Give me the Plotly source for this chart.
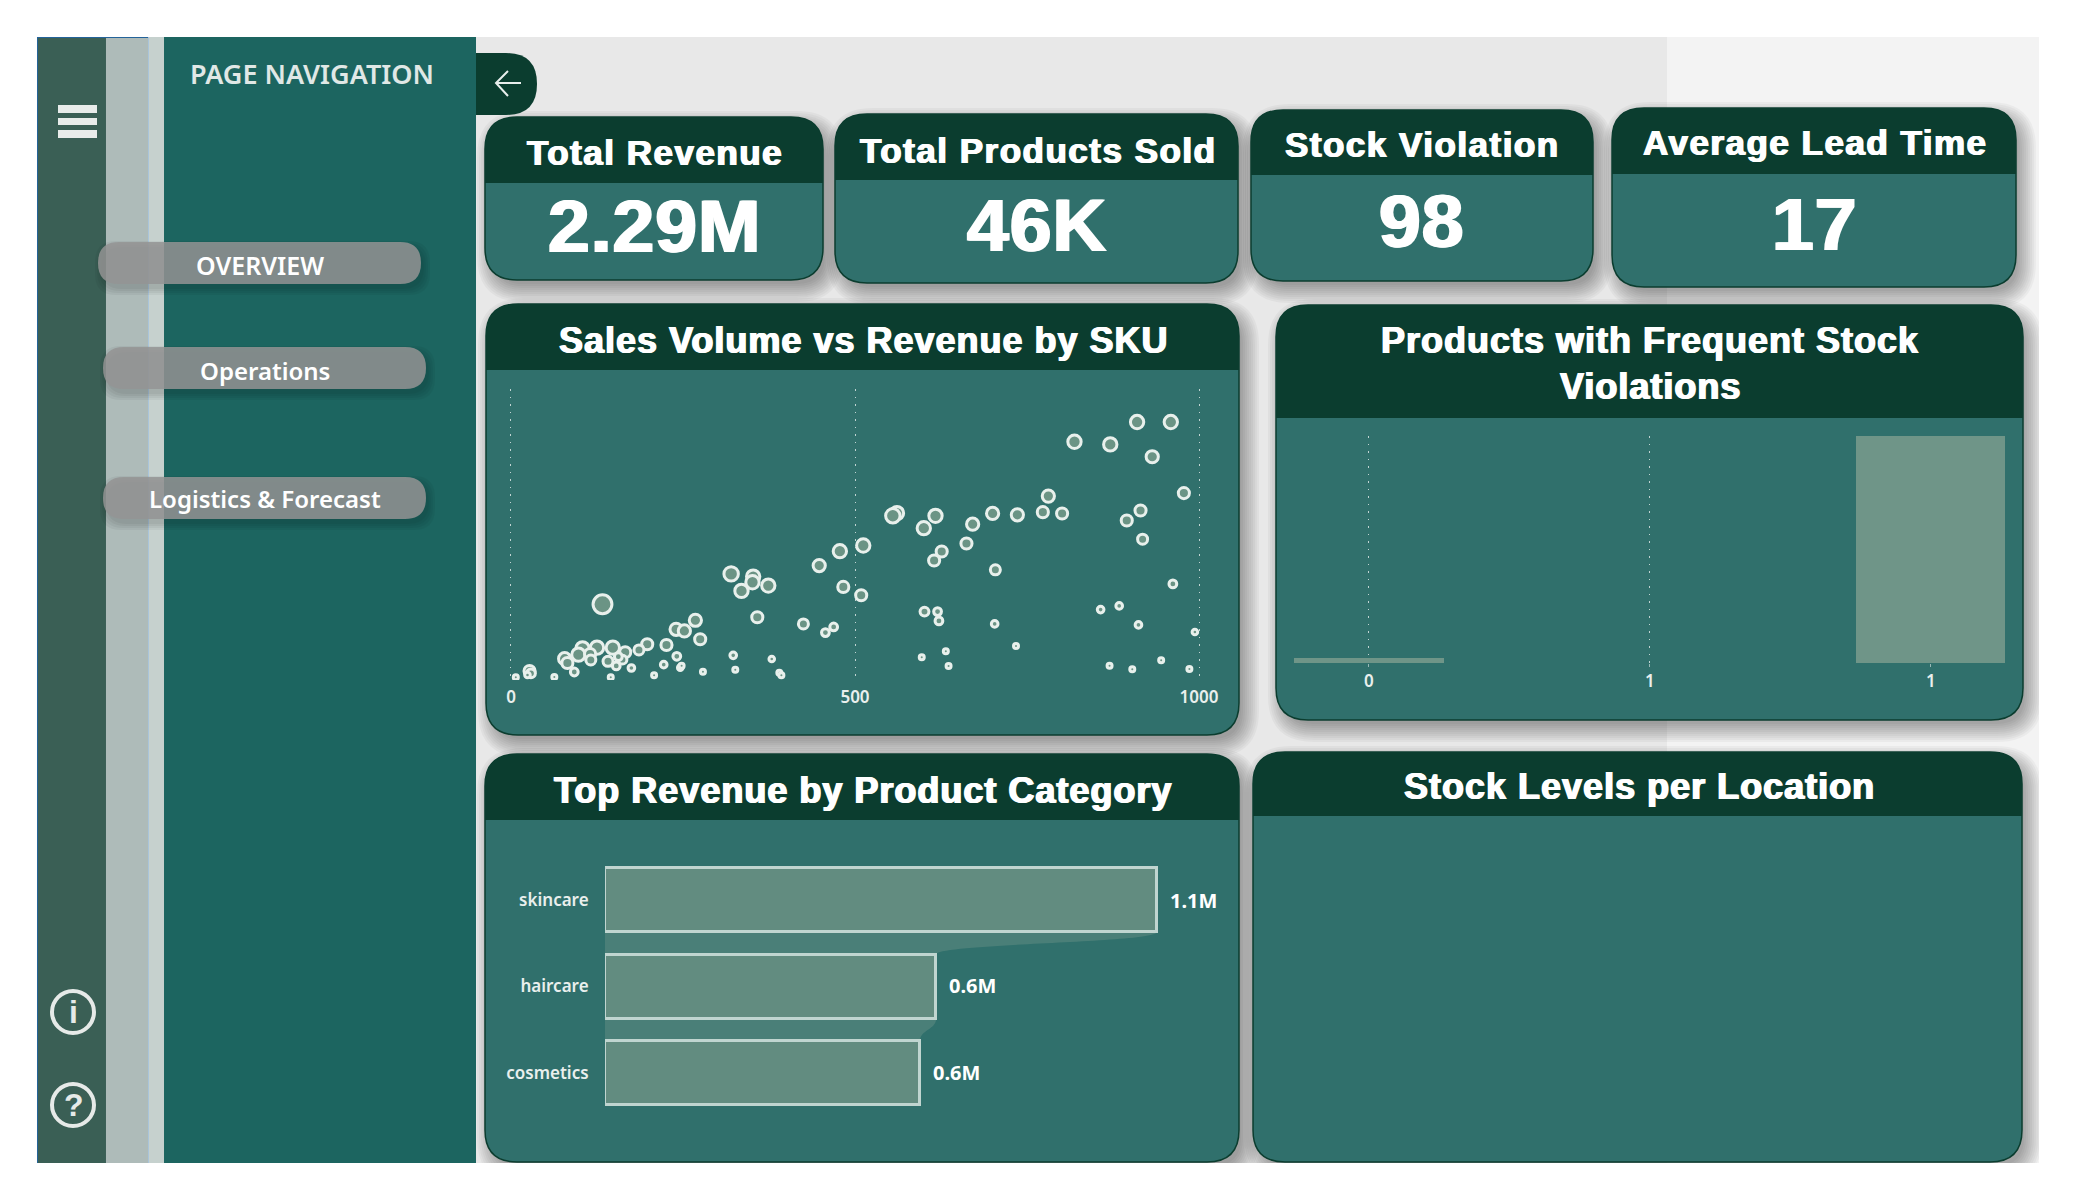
"""
Supply chain dashboard page rebuilt as one Plotly figure.
Panels are drawn as paper shapes, the three visuals are real traces.
"""

import plotly.graph_objects as go

W = 2075
H = 1200

# KPI cards
kpi_titles = ["Total Revenue", "Total Products Sold", "Stock Violation", "Average Lead Time"]
kpi_values = ["2.29M", "46K", "98", "17"]

# Sales Volume vs Revenue by SKU
sales_volume = [910, 959, 819, 871, 932, 978, 781, 561, 555, 617, 600, 700, 736, 773, 801, 915, 895, 671, 918,
                512, 478, 662, 626, 615, 448, 704, 320, 352, 351, 374, 335, 483, 509, 962, 133, 601, 620, 622,
                857, 884, 358, 425, 703, 912, 469, 457, 268, 240, 252, 275, 994, 226, 198, 186, 166, 148, 125,
                104, 98, 78, 115, 116, 82, 141, 162, 156, 153, 92, 175, 222, 241, 246, 248, 323, 632, 597,
                734, 379, 945, 636, 870, 903, 986, 279, 326, 208, 145, 390, 393, 63, 7, 27, 29, 24]
revenue = [85030, 85030, 78540, 77660, 73590, 61600, 60610, 55000, 54120, 54120, 50050, 54890, 54450, 55330,
           54890, 55880, 52580, 51370, 46420, 44330, 42460, 44990, 42350, 39380, 37730, 36300, 34980, 34100,
           32230, 31130, 29370, 30690, 27940, 31680, 24970, 22550, 22550, 19470, 23210, 24420, 20680, 18480,
           18480, 18150, 17490, 15620, 19690, 16720, 16170, 13420, 15840, 11550, 11770, 9900, 9130, 10670,
           10670, 10450, 8360, 7040, 8580, 6600, 5610, 6160, 6710, 7700, 4620, 2640, 3960, 5060, 7810, 4070,
           4730, 8140, 9460, 7480, 11220, 6930, 6490, 4620, 4730, 3520, 3630, 2750, 3410, 1540, 880, 2420,
           1540, 990, 880, 2970, 2200, 1650]
bubble_measure = [60, 60, 60, 60, 55, 50, 55, 60, 65, 60, 60, 55, 55, 50, 50, 50, 50, 55, 45,
                  60, 60, 50, 50, 50, 55, 45, 65, 60, 60, 60, 60, 50, 50, 35, 85, 40, 35, 35,
                  30, 30, 50, 45, 30, 30, 35, 35, 55, 55, 55, 50, 25, 50, 50, 45, 50, 60, 60,
                  60, 60, 55, 50, 45, 50, 45, 40, 35, 35, 35, 30, 30, 35, 25, 20, 30, 20, 20,
                  20, 25, 15, 15, 15, 10, 10, 15, 15, 10, 5, 10, 5, 20, 20, 50, 40, 25]
sales_ticks = [0, 500, 1000]

# Products with Frequent Stock Violations
violation_flag = [0, 1]
violation_count = [2, 98]
violation_tickvals = [0, 0.5, 1]
violation_ticktext = ["0", "1", "1"]

# Top Revenue by Product Category
categories = ["skincare", "haircare", "cosmetics"]
category_revenue = [1055000, 633000, 602000]

DARK = "#0b3d2f"
BODY = "#30706c"
SIDEBAR = "#1c6560"
TITLE_FONT = "Liberation Sans"
UI_FONT = "Noto Sans"
LABEL = "#e9efed"
RADIUS = 32


def px(x):
    return x / W


def py(y):
    return 1 - y / H


def rounded(x0, y0, x1, y1, tl=0, tr=0, br=0, bl=0):
    """SVG path of a box given in page pixels, returned in paper units."""
    def p(x, y):
        return f"{px(x):.5f},{py(y):.5f}"
    return (
        f"M {p(x0 + tl, y0)} L {p(x1 - tr, y0)} Q {p(x1, y0)} {p(x1, y0 + tr)} "
        f"L {p(x1, y1 - br)} Q {p(x1, y1)} {p(x1 - br, y1)} "
        f"L {p(x0 + bl, y1)} Q {p(x0, y1)} {p(x0, y1 - bl)} "
        f"L {p(x0, y0 + tl)} Q {p(x0, y0)} {p(x0 + tl, y0)} Z"
    )


shapes = []


def add_path(path, fill, line=None, width=0):
    shapes.append(dict(type="path", xref="paper", yref="paper", path=path, fillcolor=fill,
                       line=dict(color=line or "rgba(0,0,0,0)", width=width), layer="below"))


def add_box(x0, y0, x1, y1, fill, line=None, width=0):
    add_path(rounded(x0, y0, x1, y1), fill, line, width)


def add_shadow(x0, y0, x1, y1, r, dx=6, dy=8, spread=14, alpha=0.035):
    for e in range(-4, spread + 1, 2):
        add_path(rounded(x0 + dx - e, y0 + dy - e, x1 + dx + e, y1 + dy + e,
                         r + e, r + e, r + e, r + e), f"rgba(0,0,0,{alpha})")


def add_text(x, y, text, size, color="white", family=TITLE_FONT, weight=700, spacing=0, stroke=0):
    font = dict(family=family, size=size, color=color, weight=weight)
    if stroke:
        font["shadow"] = f"{stroke}px 0 0 {color}, -{stroke}px 0 0 {color}"
    if spacing:
        text = f'<span style="letter-spacing:{spacing}px">{text}</span>'
    fig.add_annotation(x=px(x), y=py(y), xref="paper", yref="paper", text=text, showarrow=False,
                       xanchor="center", yanchor="middle", font=font)


fig = go.Figure()

# Page background
add_box(476, 37, 1667, 1163, "#e8e8e8")
add_box(1667, 37, 2039, 1163, "#f3f3f3")

# card boxes: x0, y0, x1, header bottom, y1
kpi_boxes = [(485, 117, 823, 183, 280), (835, 114, 1238, 180, 283),
             (1251, 110, 1593, 175, 281), (1612, 108, 2016, 174, 287)]
panel_boxes = [(486, 304, 1239, 370, 735), (1276, 305, 2023, 418, 720),
               (485, 754, 1239, 820, 1162), (1253, 752, 2022, 816, 1162)]

for x0, y0, x1, hb, y1 in kpi_boxes + panel_boxes:
    add_shadow(x0, y0, x1, y1, RADIUS)

# shadows stop at the page edge
add_box(0, 1163, W, H, "white")
add_box(2039, 0, W, H, "white")

for x0, y0, x1, hb, y1 in kpi_boxes + panel_boxes:
    add_path(rounded(x0, y0, x1, y1, RADIUS, RADIUS, RADIUS, RADIUS), BODY, DARK, 1.5)
    add_path(rounded(x0, y0, x1, hb, RADIUS, RADIUS, 0, 0), DARK)

# Sidebar
add_box(37, 37, 106, 1163, "#3a5f55")
add_box(106, 37, 148, 1163, "#aebbb9")
add_box(148, 37, 164, 1163, "#c6d1ce")
add_box(164, 37, 476, 1163, SIDEBAR)
add_box(37, 37, 38, 1163, "#24639a")
add_box(37, 37, 148, 38, "#24639a")
add_box(148, 37, 149, 1163, "#a9c4da")

# Nav pills
for x0, y0, x1, y1 in [(98, 242, 421, 284), (103, 347, 426, 389), (103, 477, 426, 519)]:
    for e in range(0, 7, 2):
        add_path(rounded(x0 + 3 - e, y0 + 5 - e, x1 + 3 + e, y1 + 5 + e, 21, 21, 21, 21), "rgba(0,0,0,0.045)")
    add_path(rounded(x0, y0, x1, y1, 21, 21, 21, 21), "rgba(148,148,148,0.85)")

# Hamburger icon
for y0, y1 in [(105, 113), (118, 125), (130, 138)]:
    add_box(58, y0, 97, y1, "#e8ecea")

# Back button and arrow
add_path(rounded(476, 53, 537, 115, 0, 31, 31, 0), DARK)
shapes.append(dict(type="path", xref="paper", yref="paper", layer="above",
                   path=f"M {px(521)},{py(83)} L {px(496)},{py(83)} M {px(508)},{py(71)} L {px(496)},{py(83)} L {px(508)},{py(96)}",
                   line=dict(color="#e8eeec", width=2)))

# Info and help circles
for cy in [1012, 1105]:
    shapes.append(dict(type="circle", xref="paper", yref="paper", layer="above",
                       x0=px(52), x1=px(94), y0=py(cy + 21), y1=py(cy - 21),
                       line=dict(color="#e6eae8", width=4)))

# Scatter: sales volume vs revenue
fig.add_trace(go.Scatter(
    x=sales_volume, y=revenue, mode="markers", xaxis="x", yaxis="y", showlegend=False,
    marker=dict(size=bubble_measure, sizemode="diameter", sizeref=4.5, sizemin=2.5, color="#6b9485", opacity=1,
                line=dict(color="#e8f0ec", width=3)),
))

# Column chart: violations
fig.add_trace(go.Bar(
    x=violation_flag, y=violation_count, width=0.267, xaxis="x2", yaxis="y2", showlegend=False,
    marker=dict(color="#6f9588", line=dict(width=0)),
))

# Bar chart: revenue per category
category_pos = list(range(len(categories)))
fig.add_trace(go.Bar(
    x=category_revenue, y=category_pos, orientation="h", width=0.74, xaxis="x3", yaxis="y3", showlegend=False,
    marker=dict(color="#628c80", line=dict(color="#c0d5d0", width=3)),
))

value_font = dict(family=UI_FONT, size=20, color="white", weight=700)

# Ribbons joining neighbouring bars
for i in range(len(categories) - 1):
    v0, v1 = category_revenue[i], category_revenue[i + 1]
    a, b = i + 0.37, i + 0.63
    mid = i + 0.5
    shapes.append(dict(type="path", xref="x3", yref="y3", layer="below",
                       path=f"M 0,{a} L {v0},{a} C {v0},{mid} {v1},{mid} {v1},{b} L 0,{b} Z",
                       fillcolor="#4a7f78", line=dict(width=0)))
for i, v in enumerate(category_revenue):
    fig.add_annotation(x=v, y=i, xref="x3", yref="y3", text=f"{v / 1e6:.1f}M", showarrow=False,
                       xanchor="left", xshift=11, yshift=1 if i else 0, font=value_font)

# Sidebar and icon text
add_text(312, 74, "PAGE NAVIGATION", 27, "#e0e8e6", UI_FONT, 600)
add_text(260, 265, "OVERVIEW", 25, "white", UI_FONT, 600)
add_text(265, 371, "Operations", 24, "white", UI_FONT, 600)
add_text(265, 499, "Logistics &amp; Forecast", 24, "white", UI_FONT, 600)
add_text(73, 1012, "i", 32, "#e6eae8", TITLE_FONT, 700)
add_text(74, 1105, "?", 32, "#e6eae8", TITLE_FONT, 700)

# KPI text
kpi_centers = [(655, 152, 654, 226), (1038, 150, 1037, 225), (1422, 144, 1421, 221), (1815, 143, 1814, 224)]
for title, value, (tx, ty, vx, vy) in zip(kpi_titles, kpi_values, kpi_centers):
    add_text(tx, ty, title, 35, spacing=1.5, stroke=0.8)
    add_text(vx, vy, value, 75, stroke=1.2, spacing=1)

# Panel titles
add_text(864, 340, "Sales Volume vs Revenue by SKU", 36, spacing=1, stroke=0.8)
add_text(1650, 340, "Products with Frequent Stock", 36, spacing=1, stroke=0.8)
add_text(1650, 386, "Violations", 36, spacing=1, stroke=0.8)
add_text(863, 790, "Top Revenue by Product Category", 36, spacing=1, stroke=0.8)
add_text(1639, 786, "Stock Levels per Location", 36, spacing=1, stroke=0.8)

grid = dict(showgrid=True, gridcolor="rgba(255,255,255,0.7)", griddash="1.5px,6px", gridwidth=1, zeroline=False,
            showline=False, automargin=False)
tick_font = dict(family=UI_FONT, size=17, color=LABEL, weight=600)

fig.update_layout(
    width=W,
    height=H,
    margin=dict(l=0, r=0, t=0, b=0),
    paper_bgcolor="white",
    plot_bgcolor="rgba(0,0,0,0)",
    shapes=shapes,
    bargap=0,
    # range padded a little so the 0 and 1000 gridlines are kept
    xaxis=dict(domain=[px(505), px(1205)], range=[-8.7, 1008.7], tickmode="array", tickvals=sales_ticks,
               ticks="outside", ticklen=2, tickcolor="rgba(0,0,0,0)", tickfont=tick_font, anchor="y", **grid),
    yaxis=dict(domain=[py(680), py(389)], range=[0, 95920], visible=False, anchor="x"),
    xaxis2=dict(domain=[px(1293), px(2005)], range=[-0.135, 1.132], tickmode="array",
                tickvals=violation_tickvals, ticktext=violation_ticktext, ticks="outside", ticklen=3,
                tickcolor="rgba(255,255,255,0.5)", tickfont=tick_font, anchor="y2", **grid),
    yaxis2=dict(domain=[py(663), py(436)], range=[0, 98], visible=False, anchor="x2"),
    xaxis3=dict(domain=[px(605), px(1220)], range=[0, 1175500], visible=False, anchor="y3"),
    yaxis3=dict(domain=[py(1125), py(845)], range=[2.601, -0.636], tickmode="array", tickvals=category_pos,
                ticktext=categories, ticks="outside", ticklen=12, tickcolor="rgba(0,0,0,0)", tickfont=tick_font,
                showgrid=False, zeroline=False, showline=False, automargin=False, anchor="x3"),
)

fig.write_html("out.html", config={"displayModeBar": False},
               post_script="document.body.style.margin='0';document.body.style.overflow='hidden';")
